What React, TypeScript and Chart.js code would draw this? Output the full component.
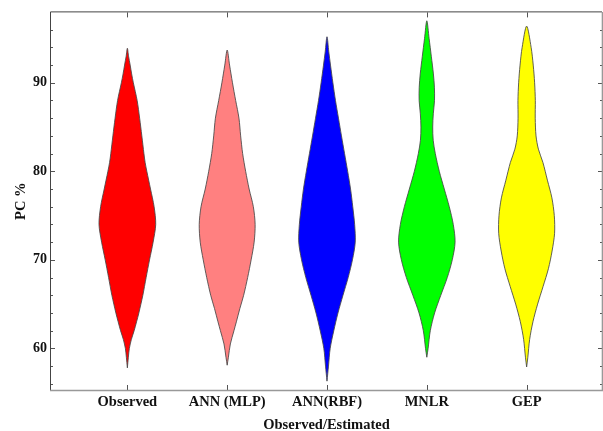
import { useEffect, useRef } from 'react';
import { Chart, registerables } from 'chart.js';

Chart.register(...registerables);

const CATEGORIES = ['Observed', 'ANN (MLP)', 'ANN(RBF)', 'MNLR', 'GEP'];
const COLORS = ['#FF0000', '#FF8080', '#0000FF', '#00FF00', '#FFFF00'];

// Violin profiles: PC % levels and half-widths (in category units)
const OBS_PC = [57.8, 59, 60, 61, 62, 63, 64, 66, 68, 70, 72, 74, 76, 78, 80, 81, 82, 84, 86, 88, 90, 91, 92, 93, 93.9];
const OBS_HW = [0, 0.01, 0.02, 0.04, 0.068, 0.092, 0.115, 0.155, 0.188, 0.222, 0.258, 0.284, 0.268, 0.232, 0.195, 0.178, 0.166, 0.145, 0.123, 0.098, 0.06, 0.043, 0.028, 0.012, 0];

const MLP_PC = [58.1, 59, 60.5, 62, 63, 64.5, 66, 68, 70, 72, 74, 76, 78, 80, 82, 84, 86, 88, 90, 92, 93.7];
const MLP_HW = [0, 0.012, 0.032, 0.068, 0.092, 0.127, 0.165, 0.205, 0.24, 0.27, 0.28, 0.262, 0.22, 0.185, 0.155, 0.135, 0.118, 0.085, 0.053, 0.024, 0];

const RBF_PC = [56.3, 58, 60, 62, 64, 66, 68, 70, 72, 74, 76, 78, 80, 82, 84, 86, 88, 90, 92, 93.5, 95.2];
const RBF_HW = [0, 0.015, 0.032, 0.068, 0.11, 0.16, 0.212, 0.255, 0.283, 0.277, 0.258, 0.236, 0.207, 0.176, 0.145, 0.115, 0.085, 0.059, 0.035, 0.018, 0];

const MNLR_PC = [59.0, 60, 62, 64, 66, 68, 70, 72, 74, 76, 78, 80, 82, 83.5, 85, 86.5, 88, 89.5, 91, 93, 95, 97.0];
const MNLR_HW = [0, 0.013, 0.035, 0.078, 0.14, 0.205, 0.255, 0.283, 0.265, 0.225, 0.175, 0.125, 0.085, 0.064, 0.059, 0.065, 0.077, 0.076, 0.066, 0.045, 0.023, 0];

const GEP_PC = [57.9, 59, 61, 63, 65, 67, 69, 71, 73, 75, 77, 79, 81, 82.5, 84, 86, 88, 90, 92, 94, 96.4];
const GEP_HW = [0, 0.012, 0.03, 0.063, 0.11, 0.165, 0.218, 0.255, 0.28, 0.277, 0.253, 0.208, 0.163, 0.118, 0.094, 0.086, 0.087, 0.08, 0.066, 0.045, 0];

const PROFILES = [
  [OBS_PC, OBS_HW],
  [MLP_PC, MLP_HW],
  [RBF_PC, RBF_HW],
  [MNLR_PC, MNLR_HW],
  [GEP_PC, GEP_HW],
];

const Y_TICKS = [56, 58, 60, 62, 64, 66, 68, 70, 72, 74, 76, 78, 80, 82, 84, 86, 88, 90, 92, 94, 96];
const X_MIN = 0.235;
const X_MAX = 5.755;
const Y_MIN = 55.3;
const Y_MAX = 97.95;

const FONT = '"Liberation Serif", "Times New Roman", serif';

function violinPoints(center: number, pc: number[], hw: number[]) {
  const pts: { x: number; y: number }[] = [];
  for (let i = 0; i < pc.length; i++) pts.push({ x: center + hw[i], y: pc[i] });
  for (let i = pc.length - 2; i >= 0; i--) pts.push({ x: center - hw[i], y: pc[i] });
  return pts;
}

const framePlugin = {
  id: 'frame',
  afterDraw(chart: any) {
    const { ctx, chartArea: a, scales } = chart;
    const x = scales.x;
    const y = scales.y;
    ctx.save();
    ctx.lineWidth = 1;
    ctx.strokeStyle = '#555';
    ctx.beginPath();
    y.ticks.forEach((t: any) => {
      const py = Math.round(y.getPixelForValue(t.value)) + 0.5;
      const len = t.value % 10 === 0 ? 4 : 2;
      ctx.moveTo(a.left, py);
      ctx.lineTo(a.left + len, py);
      ctx.moveTo(a.right, py);
      ctx.lineTo(a.right - len, py);
    });
    x.ticks.forEach((t: any) => {
      const px = Math.round(x.getPixelForValue(t.value)) + 0.5;
      ctx.moveTo(px, a.bottom);
      ctx.lineTo(px, a.bottom - 5);
      ctx.moveTo(px, a.top);
      ctx.lineTo(px, a.top + 5);
    });
    ctx.stroke();
    // frame
    ctx.strokeStyle = '#444';
    ctx.beginPath();
    ctx.moveTo(a.left - 0.5, a.bottom);
    ctx.lineTo(a.left - 0.5, a.top - 0.5);
    ctx.lineTo(a.right, a.top - 0.5);
    ctx.stroke();
    ctx.strokeStyle = '#999';
    ctx.lineWidth = 1.6;
    ctx.beginPath();
    ctx.moveTo(a.left - 1, a.bottom + 0.5);
    ctx.lineTo(a.right + 0.5, a.bottom + 0.5);
    ctx.lineTo(a.right + 0.5, a.top - 0.5);
    ctx.stroke();
    ctx.restore();
  },
};

export default function App() {
  const ref = useRef<HTMLCanvasElement | null>(null);
  useEffect(() => {
    if (!ref.current) return;
    const datasets = PROFILES.map(([pc, hw], i) => ({
      label: CATEGORIES[i],
      data: violinPoints(i + 1, pc, hw),
      showLine: true,
      fill: 'shape',
      backgroundColor: COLORS[i],
      borderColor: 'rgba(70,70,70,0.85)',
      borderWidth: 1,
      pointRadius: 0,
      pointHoverRadius: 0,
      tension: 0.3,
    }));
    const chart = new Chart(ref.current, {
      type: 'scatter',
      data: { datasets: datasets as any },
      plugins: [framePlugin],
      options: {
        animation: false,
        responsive: true,
        maintainAspectRatio: false,
        layout: { padding: { top: 12, right: 1, bottom: 0, left: 0 } },
        plugins: { legend: { display: false }, tooltip: { enabled: false } },
        scales: {
          x: {
            type: 'linear',
            min: X_MIN,
            max: X_MAX,
            afterBuildTicks: (s: any) => {
              s.ticks = CATEGORIES.map((_, i) => ({ value: i + 1 }));
            },
            afterFit: (s: any) => {
              s.height = 41;
            },
            grid: { display: false, drawTicks: false },
            border: { display: false },
            ticks: {
              autoSkip: false,
              maxRotation: 0,
              padding: 4,
              color: '#111',
              font: { family: FONT, size: 14.5, weight: 'bold' },
              callback: (v: any) => CATEGORIES[Math.round(v) - 1] ?? '',
            },
            title: {
              display: true,
              text: 'Observed/Estimated',
              color: '#111',
              padding: 0,
              font: { family: FONT, size: 14.5, weight: 'bold', lineHeight: 0.8 },
            },
          },
          y: {
            type: 'linear',
            min: Y_MIN,
            max: Y_MAX,
            afterBuildTicks: (s: any) => {
              s.ticks = Y_TICKS.map((v) => ({ value: v }));
            },
            afterFit: (s: any) => {
              s.width = 51;
            },
            grid: { display: false, drawTicks: false },
            border: { display: false },
            ticks: {
              autoSkip: false,
              padding: 4,
              color: '#111',
              font: { family: FONT, size: 14, weight: 'bold' },
              callback: (v: any) => (Number(v) % 10 === 0 ? String(v) : ''),
            },
            title: {
              display: true,
              text: 'PC %',
              color: '#111',
              padding: { top: 13, bottom: 0 },
              font: { family: FONT, size: 14.5, weight: 'bold' },
            },
          },
        },
      },
    });
    return () => chart.destroy();
  }, []);
  return (
    <div style={{ position: 'fixed', left: 0, top: 0, width: 603, height: 431, background: '#fff' }}>
      <canvas ref={ref} />
    </div>
  );
}
